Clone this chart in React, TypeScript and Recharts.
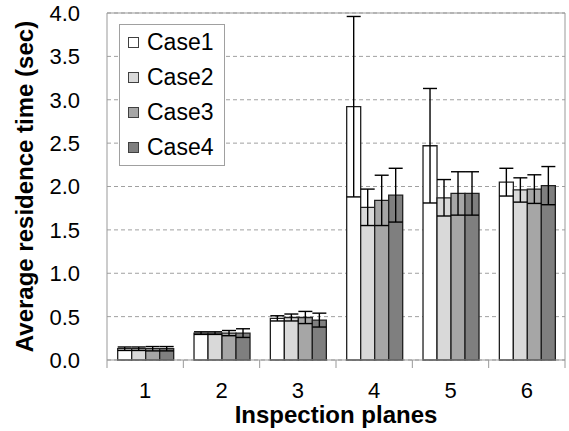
import React from 'react';
import { BarChart, Bar, XAxis, YAxis, CartesianGrid, ErrorBar, ReferenceLine, Legend } from 'recharts';

const categories = ['1', '2', '3', '4', '5', '6'];
const case1 = [0.13, 0.31, 0.48, 2.92, 2.47, 2.05];
const case2 = [0.13, 0.31, 0.49, 1.76, 1.87, 1.96];
const case3 = [0.13, 0.31, 0.49, 1.84, 1.92, 1.97];
const case4 = [0.13, 0.31, 0.46, 1.9, 1.92, 2.01];
const err1 = [0.02, 0.015, 0.03, 1.04, 0.66, 0.16];
const err2 = [0.02, 0.015, 0.04, 0.21, 0.21, 0.14];
const err3 = [0.025, 0.03, 0.07, 0.29, 0.25, 0.165];
const err4 = [0.025, 0.05, 0.08, 0.31, 0.25, 0.22];
const seriesNames = ['Case1', 'Case2', 'Case3', 'Case4'];
const yTicks = [0, 0.5, 1, 1.5, 2, 2.5, 3, 3.5, 4];
const xTitle = 'Inspection planes';
const yTitle = 'Average residence time (sec)';

const data = categories.map((c, i) => ({
  cat: c,
  c1: case1[i], c2: case2[i], c3: case3[i], c4: case4[i],
  e1: err1[i], e2: err2[i], e3: err3[i], e4: err4[i],
}));

const W = 569;
const H = 431;
const M = { top: 13, right: 3, left: 0, bottom: 0 };
const Y_W = 107;
const R_W = 1;
const X_H = 71;
const PLOT_L = M.left + Y_W;
const PLOT_R = W - M.right - R_W;
const PLOT_T = M.top;
const PLOT_B = H - M.bottom - X_H;
const BAND = (PLOT_R - PLOT_L) / categories.length;
const FONT = '"Liberation Sans", Arial, sans-serif';
const AXIS = '#999999';
const fills = ['#ffffff', '#d9d9d9', '#a6a6a6', '#7f7f7f'];
const BAR_STROKE = '#202020';

const XTick = (props: any) => {
  const { x, y, payload, index } = props;
  return (
    <g>
      <line x1={x - BAND / 2} x2={x - BAND / 2} y1={y} y2={y + 8} stroke={AXIS} strokeWidth={1} />
      {index === categories.length - 1 && (
        <line x1={x + BAND / 2} x2={x + BAND / 2} y1={y} y2={y + 8} stroke={AXIS} strokeWidth={1} />
      )}
      <text x={x} y={y + 38} textAnchor="middle" fontSize={22} fontFamily={FONT} fill="#000">
        {payload.value}
      </text>
    </g>
  );
};

const YTick = (props: any) => {
  const { x, y, payload } = props;
  return (
    <text x={x - 27} y={y} dy="0.36em" textAnchor="end" fontSize={22} fontFamily={FONT} fill="#000">
      {Number(payload.value).toFixed(1)}
    </text>
  );
};

const YLabel = () => {
  const cx = 33;
  const cy = (PLOT_T + PLOT_B) / 2;
  return (
    <text x={cx} y={cy} transform={`rotate(-90 ${cx} ${cy})`} textAnchor="middle" fontSize={24} fontWeight="bold" fontFamily={FONT} fill="#000">
      {yTitle}
    </text>
  );
};

const XLabel = () => {
  const cx = (PLOT_L + PLOT_R) / 2;
  return (
    <text x={cx} y={423} textAnchor="middle" fontSize={24} fontWeight="bold" fontFamily={FONT} fill="#000">
      {xTitle}
    </text>
  );
};

const LegendBox = (props: any) => {
  const payload = props.payload || [];
  return (
    <svg width={106} height={142} style={{ display: 'block' }}>
      <rect x={0.5} y={0.5} width={105} height={141} fill="#fff" stroke="#a0a0a0" strokeWidth={1} />
      {payload.map((p: any, i: number) => {
        const base = 26 + i * 35;
        return (
          <g key={i}>
            <rect x={9.5} y={base - 12.5} width={10} height={10} fill={p.color} stroke="#404040" strokeWidth={1} />
            <text x={28} y={base} fontSize={23} fontFamily={FONT} fill="#000">{p.value}</text>
          </g>
        );
      })}
    </svg>
  );
};

export default function App() {
  return (
    <div style={{ position: 'absolute', left: 0, top: 0, width: W, height: H, background: '#fff' }}>
      <BarChart width={W} height={H} data={data} margin={M} barGap={0} barCategoryGap="14%">
        <CartesianGrid vertical={false} stroke="#a0a0a0" strokeDasharray="4 3" />
        <XAxis
          dataKey="cat"
          height={X_H}
          axisLine={{ stroke: AXIS }}
          tickLine={false}
          tickSize={0}
          tickMargin={0}
          tick={<XTick />}
          interval={0}
          label={<XLabel />}
        />
        <YAxis
          width={Y_W}
          domain={[0, 4]}
          ticks={yTicks}
          axisLine={{ stroke: AXIS }}
          tickLine={false}
          tickSize={0}
          tickMargin={0}
          tick={<YTick />}
          label={<YLabel />}
        />
        <YAxis
          yAxisId="right"
          orientation="right"
          width={R_W}
          domain={[0, 4]}
          ticks={yTicks}
          axisLine={{ stroke: AXIS }}
          tickLine={false}
          tick={false}
        />
        <ReferenceLine y={4} stroke={AXIS} strokeWidth={1} ifOverflow="extendDomain" />
        <Legend
          layout="vertical"
          align="center"
          verticalAlign="middle"
          wrapperStyle={{ position: 'absolute', left: 119, top: 24, width: 106, height: 142 }}
          content={<LegendBox />}
        />
        {['c1', 'c2', 'c3', 'c4'].map((k, i) => (
          <Bar key={k} dataKey={k} name={seriesNames[i]} fill={fills[i]} stroke={BAR_STROKE} strokeWidth={1.3} isAnimationActive={false}>
            <ErrorBar dataKey={`e${i + 1}`} width={7} stroke="#000" strokeWidth={1.4} direction="y" />
          </Bar>
        ))}
      </BarChart>
    </div>
  );
}
